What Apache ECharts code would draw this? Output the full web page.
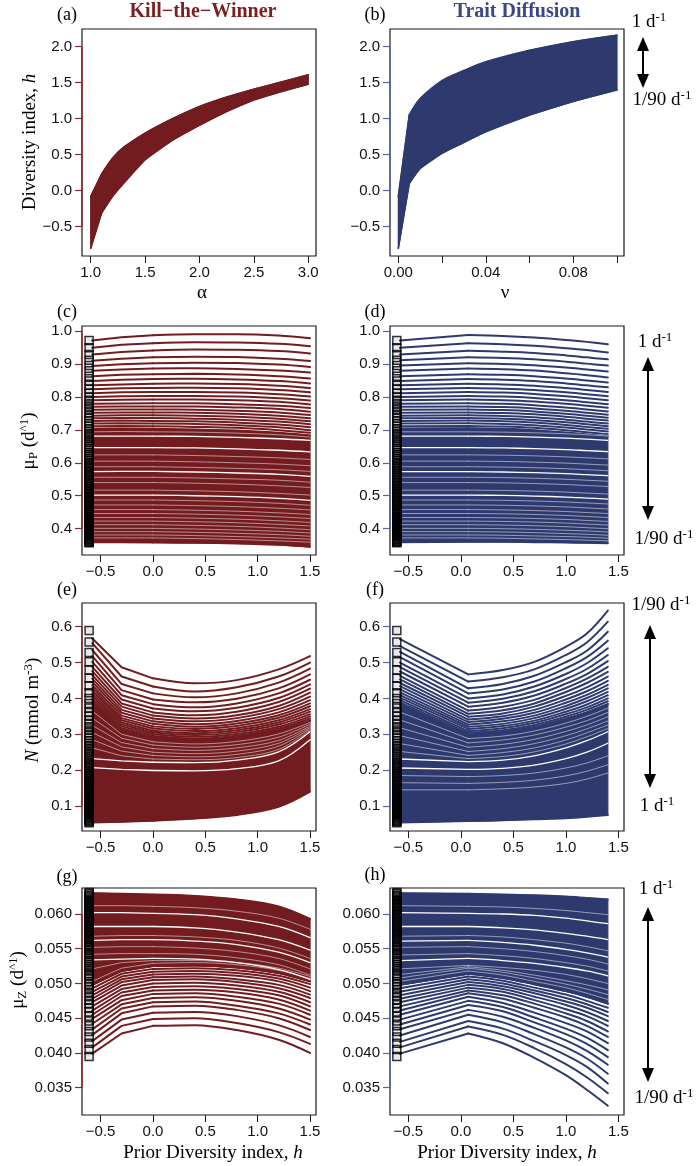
<!DOCTYPE html>
<html><head><meta charset="utf-8">
<script src="https://cdn.jsdelivr.net/npm/echarts@6/dist/echarts.min.js"></script>
<style>html,body{margin:0;padding:0;background:#fff}#c{width:697px;height:1166px}</style>
</head><body><div id="c"></div>
<script>
// ---------- panel (a) / (b) ----------
const alphaA = [1.0, 1.1, 1.2, 1.3, 1.5, 1.75, 2.0, 2.25, 2.5, 2.75, 3.0];
const hUpperA = [-0.08, 0.23, 0.45, 0.60, 0.80, 1.00, 1.17, 1.30, 1.41, 1.51, 1.61];
const hLowerA = [-0.80, -0.31, -0.08, 0.10, 0.43, 0.70, 0.91, 1.10, 1.26, 1.375, 1.48];
const nuB = [0, 0.005, 0.01, 0.02, 0.03, 0.04, 0.06, 0.08, 0.10];
const hUpperB = [-0.08, 1.05, 1.28, 1.53, 1.67, 1.79, 1.95, 2.07, 2.16];
const hLowerB = [-0.80, 0.10, 0.31, 0.52, 0.67, 0.82, 1.05, 1.24, 1.40];

// ---------- x positions (prior diversity h) ----------
const xKTW = [-0.58, -0.3, 0.0, 0.4, 0.8, 1.2, 1.5];
const xTD = [-0.58, 0.07, 0.4, 0.7, 1.0, 1.2, 1.4];
const sqX = -0.61;

// ---------- tick values ----------
const ticksAlpha = [1.0, 1.5, 2.0, 2.5, 3.0];
const ticksNu = [0, 0.02, 0.04, 0.06, 0.08, 0.10];
const labelsNu = [0, 0.04, 0.08];
const ticksH = [-0.5, 0, 0.5, 1.0, 1.5];
const ticksDiv = [-0.5, 0, 0.5, 1.0, 1.5, 2.0];
const ticksMuP = [0.4, 0.5, 0.6, 0.7, 0.8, 0.9, 1.0];
const ticksN = [0.1, 0.2, 0.3, 0.4, 0.5, 0.6];
const ticksMuZ = [0.035, 0.040, 0.045, 0.050, 0.055, 0.060];

// ---------- no-diversity squares ----------
const sqMuP = [0.971,0.949,0.929,0.911,0.895,0.879,0.863,0.848,0.835,0.823,0.811,0.800,0.790,0.780,0.770,0.761,0.752,0.743,0.735,0.727,0.719,0.711,0.703,0.696,0.689,0.682,0.675,0.668,0.662,0.655,0.649,0.643,0.637,0.631,0.625,0.619,0.613,0.608,0.602,0.597,0.591,0.586,0.581,0.575,0.570,0.565,0.560,0.555,0.551,0.546,0.541,0.537,0.532,0.527,0.523,0.519,0.514,0.510,0.506,0.502,0.498,0.494,0.490,0.486,0.482,0.478,0.474,0.470,0.467,0.463,0.459,0.456,0.452,0.449,0.445,0.442,0.438,0.435,0.432,0.428,0.425,0.422,0.419,0.416,0.413,0.409,0.406,0.403,0.400,0.397,0.394,0.392,0.389,0.386,0.383,0.380,0.377,0.375,0.372,0.369,0.367,0.364,0.361,0.359,0.357];
const sqN = [0.589,0.557,0.528,0.502,0.479,0.456,0.435,0.416,0.400,0.386,0.373,0.361,0.350,0.340,0.330,0.321,0.312,0.304,0.296,0.289,0.282,0.275,0.268,0.262,0.256,0.250,0.244,0.239,0.233,0.228,0.223,0.218,0.213,0.208,0.204,0.199,0.195,0.191,0.187,0.183,0.179,0.175,0.171,0.167,0.164,0.160,0.157,0.153,0.150,0.147,0.143,0.140,0.137,0.134,0.131,0.128,0.125,0.122,0.119,0.116,0.113,0.110,0.107,0.104,0.101,0.098,0.095,0.092,0.089,0.086,0.083,0.080,0.077,0.074,0.071,0.068,0.065,0.062,0.059,0.056,0.053];
const sqMuZ = [0.0395,0.0405,0.0414,0.0423,0.0431,0.0439,0.0446,0.0453,0.0459,0.0465,0.0471,0.0476,0.0481,0.0486,0.0491,0.0495,0.0499,0.0503,0.0507,0.0511,0.0514,0.0518,0.0521,0.0524,0.0527,0.0530,0.0533,0.0536,0.0539,0.0542,0.0544,0.0547,0.0549,0.0552,0.0554,0.0556,0.0559,0.0561,0.0563,0.0565,0.0567,0.0569,0.0571,0.0573,0.0575,0.0577,0.0579,0.0581,0.0583,0.0585,0.0587,0.0589,0.0591,0.0593,0.0595,0.0597,0.0599,0.0601,0.0603,0.0605,0.0607,0.0609,0.0611,0.0613,0.0615,0.0617,0.0619,0.0621,0.0623,0.0625,0.0627,0.0629,0.0631];

// ---------- (c) muP, Kill-the-Winner ----------
const muP_KTW = [
[0.971,0.981,0.987,0.990,0.990,0.986,0.978],[0.949,0.958,0.963,0.966,0.965,0.961,0.954],
[0.929,0.936,0.941,0.944,0.943,0.939,0.932],[0.910,0.916,0.920,0.922,0.921,0.916,0.909],
[0.894,0.899,0.902,0.904,0.903,0.898,0.891],[0.879,0.883,0.886,0.887,0.885,0.880,0.874],
[0.863,0.867,0.869,0.870,0.868,0.863,0.856],[0.848,0.852,0.854,0.855,0.853,0.848,0.841],
[0.835,0.838,0.840,0.841,0.839,0.834,0.827],[0.823,0.826,0.827,0.828,0.826,0.821,0.814],
[0.811,0.814,0.815,0.815,0.813,0.808,0.801],[0.800,0.802,0.803,0.803,0.801,0.796,0.789],
[0.790,0.791,0.792,0.792,0.790,0.785,0.777],[0.779,0.780,0.781,0.781,0.778,0.773,0.766],
[0.770,0.771,0.771,0.771,0.768,0.763,0.755],[0.761,0.762,0.762,0.761,0.758,0.753,0.745],
[0.752,0.753,0.753,0.752,0.749,0.743,0.735],[0.743,0.744,0.744,0.743,0.740,0.734,0.726],
[0.735,0.736,0.736,0.734,0.731,0.725,0.717],[0.727,0.728,0.727,0.726,0.722,0.716,0.708],
[0.719,0.720,0.719,0.718,0.714,0.708,0.699],[0.711,0.712,0.711,0.709,0.706,0.699,0.691]];
const muP_KTW_top = [0.703,0.704,0.703,0.701,0.698,0.691,0.683];
const muP_KTW_bot = [0.359,0.359,0.358,0.357,0.355,0.351,0.345];
const muP_KTW_gapMajor = [
[0.681,0.681,0.681,0.680,0.677,0.673,0.668],[0.646,0.646,0.646,0.645,0.642,0.638,0.633],
[0.573,0.574,0.574,0.572,0.569,0.565,0.559],[0.502,0.502,0.502,0.500,0.497,0.492,0.486]];
const muP_KTW_gapMinor = [
[0.694,0.695,0.694,0.693,0.690,0.685,0.678],[0.624,0.624,0.624,0.622,0.619,0.615,0.610],
[0.605,0.605,0.605,0.603,0.600,0.596,0.591],[0.588,0.588,0.588,0.586,0.583,0.579,0.574],
[0.556,0.556,0.556,0.554,0.551,0.547,0.541],[0.540,0.540,0.540,0.538,0.535,0.530,0.525],
[0.517,0.517,0.517,0.515,0.512,0.507,0.502],[0.487,0.487,0.487,0.485,0.482,0.477,0.471],
[0.472,0.472,0.472,0.470,0.467,0.462,0.457],[0.458,0.458,0.458,0.456,0.453,0.448,0.443],
[0.446,0.446,0.446,0.444,0.441,0.436,0.431],[0.434,0.434,0.434,0.432,0.429,0.424,0.419],
[0.423,0.423,0.423,0.421,0.418,0.413,0.408],[0.412,0.412,0.412,0.410,0.407,0.402,0.397],
[0.401,0.401,0.401,0.399,0.396,0.392,0.387],[0.391,0.391,0.391,0.389,0.386,0.382,0.377],
[0.381,0.381,0.381,0.379,0.376,0.372,0.368],[0.372,0.372,0.372,0.370,0.367,0.363,0.359]];

// ---------- (d) muP, Trait Diffusion ----------
const muP_TD = [
[0.971,0.988,0.985,0.980,0.973,0.967,0.960],[0.949,0.963,0.960,0.955,0.948,0.942,0.935],
[0.929,0.940,0.937,0.933,0.926,0.920,0.914],[0.911,0.920,0.918,0.914,0.907,0.901,0.895],
[0.895,0.902,0.900,0.896,0.889,0.883,0.877],[0.879,0.886,0.884,0.880,0.872,0.866,0.859],
[0.863,0.869,0.867,0.863,0.856,0.850,0.844],[0.848,0.854,0.852,0.848,0.841,0.835,0.829],
[0.835,0.840,0.838,0.834,0.827,0.821,0.815],[0.823,0.827,0.825,0.821,0.814,0.808,0.802],
[0.811,0.815,0.813,0.809,0.802,0.796,0.790],[0.800,0.803,0.801,0.797,0.790,0.784,0.778],
[0.790,0.792,0.790,0.786,0.779,0.773,0.767],[0.779,0.781,0.779,0.775,0.768,0.762,0.756],
[0.770,0.771,0.769,0.765,0.758,0.752,0.746],[0.761,0.762,0.760,0.756,0.749,0.743,0.737],
[0.752,0.753,0.751,0.747,0.740,0.734,0.728],[0.743,0.744,0.742,0.738,0.731,0.725,0.719],
[0.735,0.736,0.734,0.730,0.723,0.717,0.711],[0.727,0.728,0.726,0.722,0.715,0.709,0.703],
[0.719,0.720,0.718,0.714,0.707,0.701,0.695],[0.711,0.712,0.710,0.706,0.699,0.693,0.687]];
const muP_TD_top = [0.704,0.705,0.703,0.699,0.692,0.686,0.680];
const muP_TD_bot = [0.359,0.360,0.360,0.359,0.358,0.357,0.356];
const muP_TD_gapMajor = [
[0.681,0.681,0.680,0.678,0.675,0.672,0.668],[0.646,0.646,0.645,0.643,0.640,0.637,0.634],
[0.573,0.573,0.572,0.570,0.567,0.564,0.561],[0.502,0.502,0.501,0.499,0.496,0.493,0.490]];
const muP_TD_gapMinor = [
[0.694,0.694,0.693,0.691,0.688,0.685,0.681],[0.624,0.624,0.623,0.621,0.618,0.615,0.612],
[0.605,0.605,0.604,0.602,0.599,0.596,0.593],[0.588,0.588,0.587,0.585,0.582,0.579,0.576],
[0.556,0.556,0.555,0.553,0.550,0.547,0.544],[0.540,0.540,0.539,0.537,0.534,0.531,0.528],
[0.517,0.517,0.516,0.514,0.511,0.508,0.505],[0.487,0.487,0.486,0.484,0.481,0.478,0.475],
[0.472,0.472,0.471,0.469,0.466,0.463,0.460],[0.458,0.458,0.457,0.455,0.452,0.449,0.446],
[0.446,0.446,0.445,0.443,0.440,0.437,0.434],[0.434,0.434,0.433,0.431,0.428,0.425,0.422],
[0.423,0.423,0.422,0.420,0.417,0.414,0.411],[0.412,0.412,0.411,0.409,0.406,0.403,0.400],
[0.401,0.401,0.400,0.398,0.395,0.393,0.390],[0.391,0.391,0.390,0.388,0.385,0.383,0.380],
[0.381,0.381,0.380,0.378,0.376,0.374,0.371],[0.372,0.372,0.371,0.369,0.367,0.365,0.363]];

// ---------- (e) N, Kill-the-Winner ----------
const N_KTW = [
[0.567,0.487,0.456,0.442,0.451,0.481,0.518],[0.554,0.461,0.433,0.419,0.431,0.461,0.500],
[0.535,0.440,0.414,0.403,0.414,0.444,0.483],[0.518,0.423,0.397,0.389,0.399,0.428,0.467],
[0.502,0.409,0.384,0.375,0.386,0.414,0.452],[0.488,0.397,0.372,0.364,0.374,0.401,0.439],
[0.476,0.386,0.361,0.353,0.363,0.390,0.427],[0.465,0.377,0.352,0.344,0.353,0.379,0.416],
[0.455,0.368,0.344,0.336,0.345,0.370,0.405],[0.446,0.360,0.336,0.328,0.337,0.361,0.395],
[0.437,0.352,0.329,0.321,0.330,0.353,0.386],[0.429,0.345,0.322,0.315,0.323,0.346,0.378],
[0.421,0.339,0.316,0.309,0.317,0.339,0.370],[0.414,0.333,0.310,0.303,0.311,0.333,0.363],
[0.407,0.327,0.305,0.298,0.306,0.327,0.356],[0.400,0.322,0.300,0.293,0.301,0.321,0.350],
[0.393,0.317,0.295,0.288,0.296,0.316,0.344],[0.387,0.312,0.291,0.284,0.291,0.311,0.338]];
const N_KTW_top = [0.387,0.312,0.291,0.284,0.291,0.311,0.338];
const N_KTW_bot = [0.054,0.056,0.059,0.065,0.075,0.098,0.140];
const N_KTW_gapMajor = [
[0.232,0.226,0.222,0.221,0.228,0.251,0.307],[0.207,0.202,0.199,0.198,0.204,0.226,0.285]];
const N_KTW_gapMinor = [
[0.365,0.300,0.279,0.273,0.280,0.301,0.333],[0.345,0.289,0.270,0.264,0.271,0.292,0.328],
[0.325,0.277,0.260,0.255,0.262,0.283,0.323],[0.305,0.265,0.250,0.246,0.253,0.275,0.319],
[0.285,0.253,0.241,0.237,0.244,0.267,0.315],[0.262,0.240,0.231,0.229,0.235,0.258,0.311]];

// ---------- (f) N, Trait Diffusion ----------
const N_TD = [
[0.565,0.467,0.479,0.502,0.544,0.581,0.645],[0.546,0.447,0.459,0.481,0.521,0.556,0.614],
[0.530,0.428,0.440,0.463,0.501,0.533,0.586],[0.515,0.414,0.425,0.447,0.484,0.515,0.561],
[0.500,0.400,0.411,0.433,0.468,0.498,0.540],[0.487,0.388,0.399,0.420,0.454,0.482,0.521],
[0.475,0.377,0.388,0.408,0.441,0.468,0.504],[0.463,0.366,0.377,0.396,0.429,0.455,0.488],
[0.453,0.357,0.367,0.386,0.418,0.443,0.474],[0.443,0.349,0.358,0.377,0.407,0.431,0.461],
[0.434,0.341,0.350,0.368,0.397,0.420,0.449],[0.425,0.334,0.343,0.360,0.388,0.410,0.438],
[0.417,0.327,0.336,0.352,0.379,0.401,0.428],[0.409,0.321,0.329,0.345,0.371,0.392,0.418],
[0.402,0.315,0.323,0.338,0.363,0.383,0.409],[0.395,0.309,0.317,0.332,0.356,0.375,0.400],
[0.389,0.304,0.311,0.326,0.349,0.368,0.392],[0.383,0.299,0.306,0.320,0.343,0.361,0.384]];
const N_TD_top = [0.383,0.299,0.306,0.320,0.343,0.361,0.384];
const N_TD_bot = [0.054,0.058,0.060,0.063,0.066,0.070,0.075];
const N_TD_gapMajor = [
[0.231,0.224,0.228,0.240,0.262,0.282,0.307],[0.206,0.202,0.205,0.214,0.232,0.250,0.275]];
const N_TD_gapMinor = [
[0.362,0.288,0.295,0.309,0.331,0.350,0.373],[0.340,0.276,0.284,0.298,0.320,0.338,0.361],
[0.318,0.264,0.272,0.286,0.308,0.326,0.349],[0.296,0.252,0.260,0.274,0.296,0.315,0.337],
[0.274,0.241,0.249,0.262,0.284,0.304,0.326],[0.252,0.232,0.238,0.251,0.273,0.293,0.316],
[0.185,0.182,0.185,0.192,0.206,0.220,0.240],[0.165,0.163,0.166,0.172,0.184,0.197,0.215],
[0.145,0.145,0.148,0.153,0.163,0.175,0.192]];

// ---------- (g) muZ, Kill-the-Winner ----------
const muZ_KTW = [
[0.0399,0.0428,0.0439,0.0440,0.0433,0.0419,0.0400],[0.0408,0.0439,0.0449,0.0450,0.0443,0.0430,0.0413],
[0.0417,0.0448,0.0458,0.0459,0.0453,0.0440,0.0423],[0.0426,0.0457,0.0467,0.0468,0.0462,0.0450,0.0433],
[0.0434,0.0464,0.0473,0.0474,0.0468,0.0457,0.0441],[0.0442,0.0470,0.0479,0.0480,0.0475,0.0464,0.0448],
[0.0449,0.0476,0.0485,0.0486,0.0481,0.0471,0.0455],[0.0455,0.0482,0.0490,0.0491,0.0487,0.0477,0.0461],
[0.0461,0.0487,0.0495,0.0496,0.0492,0.0483,0.0467],[0.0467,0.0492,0.0500,0.0501,0.0497,0.0488,0.0473],
[0.0473,0.0497,0.0505,0.0506,0.0502,0.0493,0.0479],[0.0478,0.0502,0.0509,0.0510,0.0506,0.0498,0.0484],
[0.0483,0.0506,0.0513,0.0514,0.0511,0.0503,0.0489],[0.0488,0.0510,0.0517,0.0518,0.0515,0.0507,0.0494],
[0.0493,0.0514,0.0521,0.0522,0.0519,0.0511,0.0499],[0.0498,0.0518,0.0525,0.0526,0.0523,0.0515,0.0503]];
const muZ_KTW_top = [0.0630,0.0629,0.0628,0.0626,0.0621,0.0611,0.0593];
const muZ_KTW_bot = [0.0498,0.0518,0.0525,0.0526,0.0523,0.0515,0.0503];
const muZ_KTW_gapMajor = [
[0.0602,0.0602,0.0601,0.0599,0.0593,0.0582,0.0566],[0.0582,0.0582,0.0582,0.0580,0.0574,0.0563,0.0548],
[0.0562,0.0563,0.0563,0.0561,0.0556,0.0545,0.0530],[0.0534,0.0535,0.0536,0.0535,0.0530,0.0520,0.0506]];
const muZ_KTW_gapMinor = [
[0.0568,0.0569,0.0569,0.0567,0.0562,0.0551,0.0536],[0.0552,0.0553,0.0553,0.0551,0.0546,0.0536,0.0521],
[0.0542,0.0543,0.0543,0.0542,0.0537,0.0527,0.0512],[0.0521,0.0530,0.0533,0.0533,0.0530,0.0522,0.0510],
[0.0503,0.0522,0.0529,0.0530,0.0527,0.0519,0.0507],[0.0612,0.0612,0.0611,0.0609,0.0604,0.0594,0.0578]];

// ---------- (h) muZ, Trait Diffusion ----------
const muZ_TD = [
[0.0399,0.0428,0.0414,0.0393,0.0368,0.0347,0.0324],[0.0408,0.0438,0.0426,0.0407,0.0384,0.0365,0.0342],
[0.0416,0.0446,0.0435,0.0417,0.0397,0.0380,0.0356],[0.0425,0.0455,0.0444,0.0427,0.0408,0.0392,0.0370],
[0.0434,0.0462,0.0452,0.0436,0.0418,0.0403,0.0383],[0.0441,0.0469,0.0460,0.0444,0.0427,0.0413,0.0394],
[0.0448,0.0475,0.0466,0.0451,0.0435,0.0422,0.0404],[0.0455,0.0481,0.0472,0.0458,0.0443,0.0431,0.0414],
[0.0461,0.0486,0.0478,0.0465,0.0451,0.0439,0.0423],[0.0467,0.0490,0.0483,0.0471,0.0457,0.0446,0.0431],
[0.0473,0.0494,0.0488,0.0476,0.0463,0.0453,0.0439],[0.0478,0.0498,0.0492,0.0481,0.0469,0.0459,0.0446],
[0.0483,0.0502,0.0496,0.0486,0.0474,0.0465,0.0453],[0.0488,0.0506,0.0500,0.0490,0.0479,0.0470,0.0459],
[0.0493,0.0510,0.0504,0.0494,0.0484,0.0475,0.0465],[0.0498,0.0514,0.0508,0.0499,0.0489,0.0481,0.0471]];
const muZ_TD_top = [0.0630,0.0629,0.0628,0.0627,0.0625,0.0623,0.0621];
const muZ_TD_bot = [0.0498,0.0514,0.0508,0.0499,0.0489,0.0481,0.0471];
const muZ_TD_gapMajor = [
[0.0602,0.0601,0.0600,0.0598,0.0594,0.0590,0.0586],[0.0582,0.0582,0.0580,0.0577,0.0572,0.0568,0.0563],
[0.0561,0.0562,0.0559,0.0555,0.0549,0.0544,0.0538],[0.0533,0.0536,0.0533,0.0529,0.0523,0.0518,0.0511]];
const muZ_TD_gapMinor = [
[0.0568,0.0569,0.0567,0.0563,0.0558,0.0553,0.0547],[0.0552,0.0553,0.0550,0.0546,0.0540,0.0535,0.0528],
[0.0541,0.0543,0.0540,0.0536,0.0530,0.0525,0.0518],[0.0521,0.0526,0.0523,0.0519,0.0513,0.0507,0.0500],
[0.0503,0.0518,0.0512,0.0503,0.0494,0.0486,0.0477],[0.0508,0.0522,0.0516,0.0508,0.0499,0.0492,0.0484],
[0.0513,0.0524,0.0519,0.0512,0.0504,0.0498,0.0491],[0.0612,0.0611,0.0610,0.0608,0.0605,0.0602,0.0599]];

// ================= build chart =================
const KTW = '#731c1f', TD = '#2e3a6e';
const AX_K = '#8e2a2c', AX_T = '#5868a6';
const SANS = '"Liberation Sans", Arial, sans-serif';
const SERIF = '"Liberation Serif", "Times New Roman", serif';
const fmt = (v, d) => (v < 0 ? '\u2212' : '') + Math.abs(v).toFixed(d);

const panels = [
  {g:{left:82,top:29,width:234,height:227}, x:[0.920,3.071], y:[-0.907,2.246], xt:ticksAlpha, xl:ticksAlpha, xd:1, yt:ticksDiv, yd:1, ac:AX_K},
  {g:{left:390,top:29,width:234,height:227}, x:[-0.0038,0.1032], y:[-0.907,2.246], xt:ticksNu, xl:labelsNu, xd:2, yt:ticksDiv, yd:1, ac:AX_T},
  {g:{left:82,top:326,width:234,height:229}, x:[-0.678,1.557], y:[0.3201,1.0152], xt:ticksH, xl:ticksH, xd:1, yt:ticksMuP, yd:1, ac:AX_K},
  {g:{left:390,top:326,width:234,height:229}, x:[-0.675,1.554], y:[0.3201,1.0152], xt:ticksH, xl:ticksH, xd:1, yt:ticksMuP, yd:1, ac:AX_T},
  {g:{left:82,top:603,width:234,height:228}, x:[-0.678,1.557], y:[0.0303,0.666], xt:ticksH, xl:ticksH, xd:1, yt:ticksN, yd:1, ac:AX_K},
  {g:{left:390,top:603,width:234,height:228}, x:[-0.675,1.554], y:[0.0303,0.666], xt:ticksH, xl:ticksH, xd:1, yt:ticksN, yd:1, ac:AX_T},
  {g:{left:82,top:888,width:234,height:227}, x:[-0.678,1.557], y:[0.03107,0.06374], xt:ticksH, xl:ticksH, xd:1, yt:ticksMuZ, yd:3, ac:AX_K},
  {g:{left:390,top:888,width:234,height:227}, x:[-0.675,1.554], y:[0.03107,0.06374], xt:ticksH, xl:ticksH, xd:1, yt:ticksMuZ, yd:3, ac:AX_T}
];

const grid = [], xAxis = [], yAxis = [], series = [];
panels.forEach((p, i) => {
  grid.push(Object.assign({show:true, borderColor:'#1a1a1a', borderWidth:1.2, backgroundColor:'#fff'}, p.g));
  xAxis.push({type:'value', gridIndex:i, min:p.x[0], max:p.x[1], splitLine:{show:false},
    axisLine:{show:false, onZero:false},
    axisTick:{show:true, customValues:p.xt, length:7, lineStyle:{color:'#1a1a1a', width:1}},
    axisLabel:{customValues:p.xl, margin:9, color:'#111', fontFamily:SANS, fontSize:15, formatter:v => fmt(v, p.xd)}});
  yAxis.push({type:'value', gridIndex:i, min:p.y[0], max:p.y[1], splitLine:{show:false},
    axisLine:{show:false, onZero:false},
    axisTick:{show:true, customValues:p.yt, length:7, lineStyle:{color:p.ac, width:1.2}},
    axisLabel:{customValues:p.yt, margin:10, color:'#111', fontFamily:SANS, fontSize:15, formatter:v => fmt(v, p.yd)}});
  series.push({type:'line', xAxisIndex:i, yAxisIndex:i, clip:false, symbol:'none', silent:true, z:10,
    data:[[p.x[0], p.yt[0]], [p.x[0], p.yt[p.yt.length-1]]], lineStyle:{color:p.ac, width:1.5}});
});

function band(gi, xs, up, lo, color) {
  series.push({type:'custom', xAxisIndex:gi, yAxisIndex:gi, silent:true, z:2,
    data:[[xs[0], up[0]]],
    renderItem:(params, api) => {
      const pts = xs.map((x, k) => api.coord([x, up[k]]))
        .concat(xs.map((x, k) => api.coord([x, lo[k]])).reverse());
      return {type:'polygon', shape:{points:pts}, style:{fill:color, stroke:color, lineWidth:1.2, lineJoin:'round'}};
    }});
}
// a curve: straight up to the kink index, smooth after it
function curve(gi, xs, ys, color, width, z, kink) {
  const pts = xs.map((x, k) => [x, ys[k]]);
  series.push({type:'line', xAxisIndex:gi, yAxisIndex:gi, symbol:'none', silent:true, z:z,
    data:pts.slice(0, kink + 1), lineStyle:{color:color, width:width, cap:'round'}});
  series.push({type:'line', xAxisIndex:gi, yAxisIndex:gi, symbol:'none', silent:true, z:z, smooth:0.35,
    data:pts.slice(kink), lineStyle:{color:color, width:width, cap:'round'}});
}
function squares(gi, vals) {
  series.push({type:'scatter', xAxisIndex:gi, yAxisIndex:gi, silent:true, z:6, symbol:'rect', symbolSize:8,
    data:vals.map(v => [sqX, v]), itemStyle:{color:'rgba(0,0,0,0.1)', borderColor:'#000', borderWidth:1.5}});
}

band(0, alphaA, hUpperA, hLowerA, KTW);
curve(0, alphaA, hUpperA, KTW, 1.6, 3, 1);
curve(0, alphaA, hLowerA, KTW, 1.6, 3, 1);
band(1, nuB, hUpperB, hLowerB, TD);
curve(1, nuB, hUpperB, TD, 1.6, 3, 1);
curve(1, nuB, hLowerB, TD, 1.6, 3, 1);

const dense = [
  [2, xKTW, 2, muP_KTW, muP_KTW_top, muP_KTW_bot, muP_KTW_gapMajor, muP_KTW_gapMinor, KTW, sqMuP],
  [3, xTD, 1, muP_TD, muP_TD_top, muP_TD_bot, muP_TD_gapMajor, muP_TD_gapMinor, TD, sqMuP],
  [4, xKTW, 2, N_KTW, N_KTW_top, N_KTW_bot, N_KTW_gapMajor, N_KTW_gapMinor, KTW, sqN],
  [5, xTD, 1, N_TD, N_TD_top, N_TD_bot, N_TD_gapMajor, N_TD_gapMinor, TD, sqN],
  [6, xKTW, 2, muZ_KTW, muZ_KTW_top, muZ_KTW_bot, muZ_KTW_gapMajor, muZ_KTW_gapMinor, KTW, sqMuZ],
  [7, xTD, 1, muZ_TD, muZ_TD_top, muZ_TD_bot, muZ_TD_gapMajor, muZ_TD_gapMinor, TD, sqMuZ]
];
dense.forEach(([gi, xs, kink, ls, top, bot, gM, gm, col, sq]) => {
  band(gi, xs, top, bot, col);
  curve(gi, xs, top, col, 2, 3, kink);
  curve(gi, xs, bot, col, 2, 3, kink);
  ls.forEach(ys => curve(gi, xs, ys, col, 2, 3, kink));
  gm.forEach(ys => curve(gi, xs, ys, 'rgba(255,255,255,0.85)', 0.6, 4, kink));
  gM.forEach(ys => curve(gi, xs, ys, '#ffffff', 1.3, 4, kink));
  squares(gi, sq);
});

// ---------- text & annotations ----------
const base = {fontFamily:SERIF, fontSize:19, lineHeight:22, fill:'#000'};
const rich = {
  n: base,
  i: Object.assign({}, base, {fontStyle:'italic'}),
  b: {fontFamily:SERIF, fontSize:13, lineHeight:10, verticalAlign:'bottom', fill:'#000'},
  s: {fontFamily:SERIF, fontSize:13, lineHeight:13, verticalAlign:'top', fill:'#000'}
};
function txt(x, y, text, extra) {
  return Object.assign({type:'text', x:x, y:y, silent:true, z:100,
    style:{text:text, rich:rich, align:'center', verticalAlign:'middle', fill:'#000', font:'18px ' + SERIF}}, extra || {});
}
function arrow(x, y0, y1) {
  return [
    {type:'line', silent:true, z:100, shape:{x1:x, y1:y0 + 10, x2:x, y2:y1 - 10}, style:{stroke:'#000', lineWidth:2}},
    {type:'polygon', silent:true, z:100, shape:{points:[[x, y0], [x - 6, y0 + 14], [x + 6, y0 + 14]]}, style:{fill:'#000'}},
    {type:'polygon', silent:true, z:100, shape:{points:[[x, y1], [x - 6, y1 - 14], [x + 6, y1 - 14]]}, style:{fill:'#000'}}
  ];
}
const R90 = Math.PI / 2;
const graphic = [
  txt(67, 15, '(a)'), txt(375, 15, '(b)'), txt(67, 312, '(c)'), txt(375, 312, '(d)'),
  txt(67, 590, '(e)'), txt(375, 590, '(f)'), txt(67, 877, '(g)'), txt(375, 875, '(h)'),
  {type:'text', x:203, y:12, silent:true, z:100, style:{text:'Kill\u2212the\u2212Winner', align:'center', verticalAlign:'middle', fill:'#7d1e1f', font:'bold 20px ' + SERIF}},
  {type:'text', x:517, y:12, silent:true, z:100, style:{text:'Trait Diffusion', align:'center', verticalAlign:'middle', fill:'#3a4887', font:'bold 20px ' + SERIF}},
  txt(30, 142, '{n|Diversity index, }{i|h}', {rotation:R90}),
  txt(29, 441, '{n|\u03bc}{b|P}{n| (d}{s|^1}{n|)}', {rotation:R90}),
  txt(33, 710, '{i|N}{n| (mmol m}{s|-3}{n|)}', {rotation:R90}),
  txt(18, 980, '{n|\u03bc}{b|Z}{n| (d}{s|^1}{n|)}', {rotation:R90}),
  txt(202, 293, '{n|\u03b1}'), txt(505, 293, '{n|\u03bd}'),
  txt(213, 1153, '{n|Prior Diversity index, }{i|h}'), txt(507, 1153, '{n|Prior Diversity index, }{i|h}'),
  txt(649, 22, '{n|1 d}{s|-1}'), txt(662, 100, '{n|1/90 d}{s|-1}'),
  txt(655, 342, '{n|1 d}{s|-1}'), txt(664, 539, '{n|1/90 d}{s|-1}'),
  txt(661, 605, '{n|1/90 d}{s|-1}'), txt(657, 806, '{n|1 d}{s|-1}'),
  txt(656, 889, '{n|1 d}{s|-1}'), txt(664, 1098, '{n|1/90 d}{s|-1}')
].concat(arrow(643, 37, 88), arrow(648, 357, 520), arrow(650, 625, 788), arrow(648, 907, 1082));

const chart = echarts.init(document.getElementById('c'), null, {renderer:'canvas'});
chart.setOption({animation:false, backgroundColor:'#fff', grid, xAxis, yAxis, series, graphic});
</script></body></html>
